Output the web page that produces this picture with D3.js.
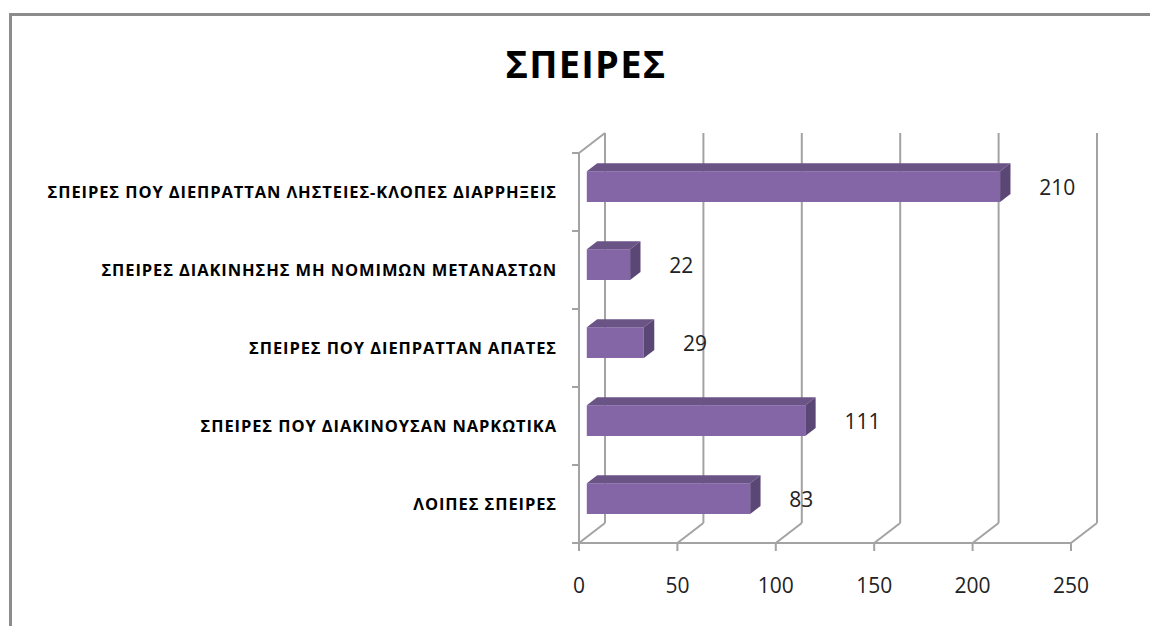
<!DOCTYPE html>
<html><head><meta charset="utf-8">
<script src="https://cdn.jsdelivr.net/npm/d3@7"></script>
<style>html,body{margin:0;padding:0;background:#fff;}svg{display:block;}</style>
</head><body>
<script>
const title = "ΣΠΕΙΡΕΣ";
const categories = [
  "ΣΠΕΙΡΕΣ ΠΟΥ ΔΙΕΠΡΑΤΤΑΝ ΛΗΣΤΕΙΕΣ-ΚΛΟΠΕΣ ΔΙΑΡΡΗΞΕΙΣ",
  "ΣΠΕΙΡΕΣ ΔΙΑΚΙΝΗΣΗΣ ΜΗ ΝΟΜΙΜΩΝ ΜΕΤΑΝΑΣΤΩΝ",
  "ΣΠΕΙΡΕΣ ΠΟΥ ΔΙΕΠΡΑΤΤΑΝ ΑΠΑΤΕΣ",
  "ΣΠΕΙΡΕΣ ΠΟΥ ΔΙΑΚΙΝΟΥΣΑΝ ΝΑΡΚΩΤΙΚΑ",
  "ΛΟΙΠΕΣ ΣΠΕΙΡΕΣ"
];
const values = [210, 22, 29, 111, 83];
const xTicks = [0, 50, 100, 150, 200, 250];

const W = 1150, H = 626;
const svg = d3.select("body").append("svg").attr("width", W).attr("height", H);

// chart border
svg.append("rect").attr("x", 10.5).attr("y", 14.5).attr("width", 1200).attr("height", 700)
  .attr("fill", "#fff").attr("stroke", "#8c8c8c").attr("stroke-width", 3);

// title
svg.append("text").attr("x", 586).attr("y", 78).attr("text-anchor", "middle")
  .attr("font-family", "'Open Sans', 'Noto Sans', sans-serif").attr("font-weight", 700)
  .attr("font-size", 38).attr("letter-spacing", 1.2).attr("fill", "#000").text(title);

const x = d3.scaleLinear().domain([0, 250]).range([579, 1071]);
const y = d3.scaleBand().domain(categories).range([153, 543]);
const DX = 26, DY = -20; // depth vector
const d1 = 0.3, d2 = 0.7; // bar depth span
const gridColor = "#a3a3a3";

const g = svg.append("g");

// back wall gridlines
g.selectAll("line.grid").data(xTicks).join("line").attr("class", "grid")
  .attr("x1", d => x(d) + DX).attr("x2", d => x(d) + DX)
  .attr("y1", y.range()[0] + DY).attr("y2", y.range()[1] + DY)
  .attr("stroke", gridColor).attr("stroke-width", 2);
// floor lines
g.selectAll("line.floor").data(xTicks).join("line").attr("class", "floor")
  .attr("x1", d => x(d)).attr("x2", d => x(d) + DX)
  .attr("y1", y.range()[1]).attr("y2", y.range()[1] + DY)
  .attr("stroke", gridColor).attr("stroke-width", 2);
// left wall top edge
g.append("line").attr("x1", x(0)).attr("x2", x(0) + DX)
  .attr("y1", y.range()[0]).attr("y2", y.range()[0] + DY)
  .attr("stroke", gridColor).attr("stroke-width", 2);
// front axes
g.append("line").attr("x1", x(0)).attr("x2", x(0)).attr("y1", y.range()[0]).attr("y2", y.range()[1])
  .attr("stroke", gridColor).attr("stroke-width", 2);
g.append("line").attr("x1", x(0)).attr("x2", x(250)).attr("y1", y.range()[1]).attr("y2", y.range()[1])
  .attr("stroke", gridColor).attr("stroke-width", 2);
// x ticks
g.selectAll("line.xt").data(xTicks).join("line").attr("class", "xt")
  .attr("x1", d => x(d)).attr("x2", d => x(d)).attr("y1", y.range()[1]).attr("y2", y.range()[1] + 8)
  .attr("stroke", gridColor).attr("stroke-width", 2);
// y ticks at category boundaries
const bounds = categories.map(c => y(c)).concat([y.range()[1]]);
g.selectAll("line.yt").data(bounds).join("line").attr("class", "yt")
  .attr("x1", x(0) - 7).attr("x2", x(0)).attr("y1", d => d).attr("y2", d => d)
  .attr("stroke", gridColor).attr("stroke-width", 2);

// x tick labels
g.selectAll("text.xl").data(xTicks).join("text").attr("class", "xl")
  .attr("x", d => x(d)).attr("y", 593).attr("text-anchor", "middle")
  .attr("font-family", "'Open Sans', sans-serif").attr("font-size", 21).attr("fill", "#222")
  .text(d => d);

// category labels
g.selectAll("text.cl").data(categories).join("text").attr("class", "cl")
  .attr("x", 557).attr("y", d => y(d) + y.bandwidth() / 2 + 6).attr("text-anchor", "end")
  .attr("font-family", "'Open Sans', sans-serif").attr("font-weight", 700).attr("font-size", 16.5)
  .attr("letter-spacing", 0.9).attr("fill", "#000").text(d => d);

// bars
const frontCol = "#8466a6", topCol = "#6a5486", sideCol = "#5b4776";
const bars = g.selectAll("g.bar").data(categories.map((c, i) => ({c, v: values[i]}))).join("g").attr("class", "bar");
bars.each(function(d) {
  const el = d3.select(this);
  const bt = y(d.c) + y.bandwidth() * 0.31, bb = y(d.c) + y.bandwidth() * 0.705;
  const x0 = x(0), xv = x(d.v);
  const ax = d1 * DX, ay = d1 * DY, bx = d2 * DX, by = d2 * DY;
  el.append("polygon").attr("fill", topCol)
    .attr("points", [[x0 + ax, bt + ay], [xv + ax, bt + ay], [xv + bx, bt + by], [x0 + bx, bt + by]].join(" "));
  el.append("polygon").attr("fill", sideCol)
    .attr("points", [[xv + ax, bt + ay], [xv + bx, bt + by], [xv + bx, bb + by], [xv + ax, bb + ay]].join(" "));
  el.append("rect").attr("fill", frontCol)
    .attr("x", x0 + ax).attr("y", bt + ay).attr("width", xv - x0).attr("height", bb - bt);
  el.append("text").attr("x", xv + 47).attr("y", (bt + bb) / 2 + ay + 8.5)
    .attr("font-family", "'Open Sans', sans-serif").attr("font-size", 21).attr("fill", "#222")
    .text(d.v);
});
</script>
</body></html>
